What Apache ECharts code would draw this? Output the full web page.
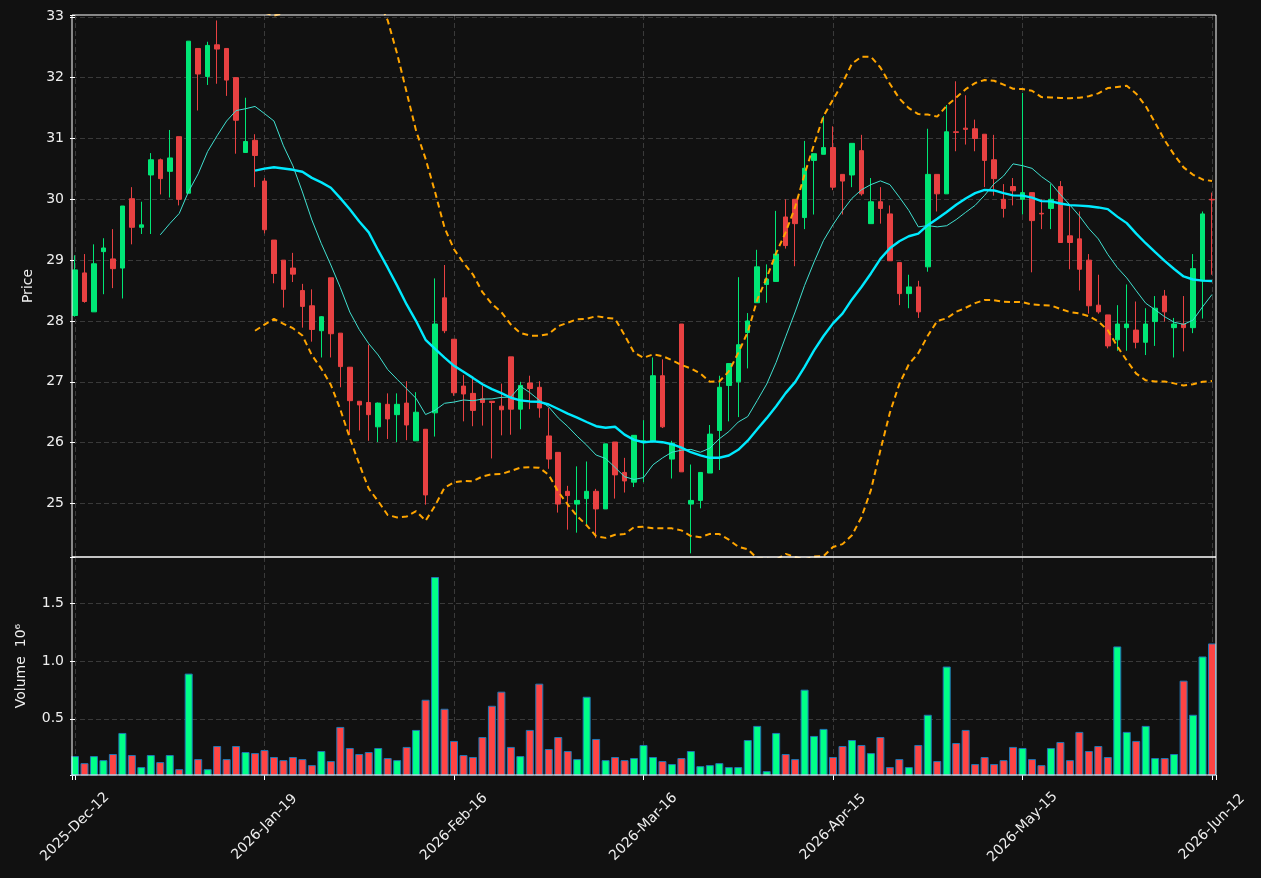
<!DOCTYPE html>
<html>
<head>
<meta charset="utf-8">
<script src="https://cdn.jsdelivr.net/npm/echarts@6/dist/echarts.min.js"></script>
<style>
	html, body { margin: 0; padding: 0; background: #111111; }
	#chart { width: 1261px; height: 878px; }
</style>
</head>
<body>
<div id="chart"></div>
<script>
// Daily prices, one entry per trading session:
var opens = [
	28.09, 28.79, 28.15, 29.14, 29.02, 28.87, 30.01, 29.54, 30.40, 30.65,
	30.46, 31.03, 30.10, 32.48, 32.02, 32.54, 32.48, 32.00, 30.77, 30.97,
	30.30, 29.33, 29.00, 28.87, 28.50, 28.25, 27.84, 28.71, 27.80, 27.24,
	26.68, 26.66, 26.26, 26.63, 26.46, 26.65, 26.03, 26.22, 26.49, 28.38,
	27.70, 26.93, 26.81, 26.72, 26.68, 26.60, 27.41, 26.55, 26.98, 26.91,
	26.11, 25.84, 25.20, 24.99, 25.08, 25.20, 24.91, 26.01, 25.51, 25.35,
	26.00, 26.03, 27.10, 25.73, 27.95, 24.99, 25.05, 25.50, 26.20, 26.94,
	27.00, 27.81, 28.30, 28.60, 28.65, 29.71, 30.00, 29.70, 30.64, 30.74,
	30.85, 30.41, 30.40, 30.80, 29.60, 29.96, 29.76, 28.96, 28.45, 28.56,
	28.89, 30.41, 30.09, 31.11, 31.17, 31.16, 31.07, 30.65, 30.00, 30.21,
	30.00, 30.11, 29.77, 29.85, 30.21, 29.40, 29.35, 29.00, 28.26, 28.10,
	27.69, 27.89, 27.85, 27.65, 27.99, 28.41, 27.89, 27.95, 27.89, 28.66,
	30.00
];
var closes = [
	28.84, 28.32, 28.94, 29.20, 28.86, 29.89, 29.54, 29.58, 30.65, 30.34,
	30.68, 30.00, 32.60, 32.06, 32.53, 32.47, 31.96, 31.30, 30.95, 30.72,
	29.50, 28.78, 28.52, 28.77, 28.24, 27.86, 28.07, 27.79, 27.25, 26.69,
	26.62, 26.46, 26.65, 26.39, 26.63, 26.29, 26.50, 25.14, 27.95, 27.84,
	26.82, 26.80, 26.53, 26.66, 26.66, 26.54, 26.55, 26.94, 26.89, 26.57,
	25.73, 24.99, 25.13, 25.05, 25.20, 24.91, 25.98, 25.47, 25.37, 26.12,
	26.03, 27.10, 26.26, 25.99, 25.52, 25.05, 25.51, 26.14, 26.91, 27.30,
	27.61, 28.00, 28.89, 28.69, 29.10, 29.24, 29.60, 30.51, 30.75, 30.85,
	30.20, 30.30, 30.92, 30.09, 29.96, 29.85, 28.99, 28.45, 28.56, 28.15,
	30.41, 30.09, 31.11, 31.10, 31.15, 31.00, 30.64, 30.34, 29.85, 30.14,
	30.11, 29.65, 29.76, 30.00, 29.29, 29.29, 28.85, 28.25, 28.15, 27.59,
	27.95, 27.95, 27.65, 27.95, 28.21, 28.15, 27.95, 27.89, 28.86, 29.76,
	29.99
];
var highs = [
	29.08, 29.10, 29.26, 29.36, 29.51, 29.89, 30.20, 29.96, 30.76, 30.67,
	31.14, 31.03, 32.60, 32.48, 32.59, 32.94, 32.48, 32.00, 31.67, 31.07,
	30.35, 29.33, 29.00, 29.12, 28.61, 28.52, 28.08, 28.71, 27.80, 27.24,
	26.68, 27.61, 26.66, 26.81, 26.81, 27.01, 26.83, 26.22, 28.70, 28.92,
	27.70, 27.11, 27.06, 26.94, 26.68, 26.97, 27.41, 27.00, 27.10, 27.01,
	26.57, 25.84, 25.29, 25.61, 25.69, 25.24, 25.98, 26.01, 25.75, 26.12,
	26.37, 27.40, 27.37, 26.03, 27.95, 25.64, 25.51, 26.29, 27.10, 27.30,
	28.72, 28.13, 29.17, 28.93, 29.81, 30.00, 30.00, 30.96, 30.75, 31.37,
	31.20, 30.41, 30.92, 31.06, 30.35, 30.20, 29.90, 28.96, 28.76, 28.66,
	31.16, 30.41, 31.55, 31.94, 31.71, 31.31, 31.07, 31.06, 30.25, 30.35,
	31.75, 30.11, 30.00, 30.25, 30.30, 29.90, 29.80, 29.10, 28.76, 28.10,
	28.26, 28.60, 28.32, 28.21, 28.41, 28.51, 28.05, 28.41, 29.10, 29.80,
	30.11
];
var lows = [
	28.07, 28.30, 28.15, 28.44, 28.54, 28.37, 29.26, 29.43, 29.43, 30.08,
	30.03, 29.90, 30.10, 31.46, 31.88, 31.90, 31.70, 30.75, 30.77, 30.20,
	29.44, 28.62, 28.22, 28.64, 27.89, 27.66, 27.40, 27.40, 26.91, 26.13,
	26.20, 26.03, 26.01, 26.06, 26.01, 26.04, 26.03, 24.98, 26.10, 27.80,
	26.77, 26.35, 26.27, 26.28, 25.74, 26.12, 26.13, 26.22, 26.55, 26.41,
	25.57, 24.85, 24.57, 24.52, 24.65, 24.43, 24.91, 25.08, 25.18, 25.27,
	25.35, 26.03, 26.24, 25.41, 25.52, 24.18, 24.92, 25.50, 25.55, 26.35,
	26.42, 27.22, 28.30, 28.30, 28.65, 29.19, 28.90, 29.51, 29.75, 30.74,
	30.15, 29.75, 30.20, 30.06, 29.60, 29.60, 28.99, 28.26, 28.21, 28.05,
	28.81, 29.80, 30.09, 30.79, 30.90, 30.79, 30.20, 30.06, 29.70, 29.90,
	29.75, 28.80, 29.51, 29.51, 29.29, 28.85, 28.50, 28.12, 28.12, 27.55,
	27.51, 27.51, 27.55, 27.44, 27.59, 27.99, 27.40, 27.50, 27.80, 28.04,
	28.76
];
// Volume, in millions:
var volumes = [
	0.178, 0.117, 0.178, 0.143, 0.196, 0.378, 0.187, 0.083, 0.187, 0.126,
	0.187, 0.065, 0.891, 0.152, 0.065, 0.265, 0.152, 0.265, 0.213, 0.204,
	0.230, 0.170, 0.143, 0.170, 0.152, 0.100, 0.222, 0.135, 0.430, 0.248,
	0.196, 0.213, 0.248, 0.161, 0.143, 0.257, 0.404, 0.665, 1.726, 0.587,
	0.309, 0.187, 0.170, 0.343, 0.613, 0.735, 0.257, 0.178, 0.404, 0.804,
	0.239, 0.343, 0.222, 0.152, 0.691, 0.326, 0.143, 0.170, 0.143, 0.161,
	0.274, 0.170, 0.135, 0.109, 0.161, 0.222, 0.091, 0.100, 0.117, 0.083,
	0.083, 0.317, 0.439, 0.048, 0.378, 0.196, 0.152, 0.752, 0.352, 0.413,
	0.170, 0.265, 0.317, 0.274, 0.204, 0.343, 0.083, 0.152, 0.083, 0.274,
	0.535, 0.135, 0.952, 0.291, 0.404, 0.109, 0.170, 0.109, 0.143, 0.257,
	0.248, 0.152, 0.100, 0.248, 0.300, 0.143, 0.387, 0.222, 0.265, 0.170,
	1.126, 0.387, 0.309, 0.439, 0.161, 0.161, 0.196, 0.830, 0.535, 1.039,
	1.152
];
// Date labels, shown every 20 sessions:
var tickLabels = ['2025-Dec-12', '2026-Jan-19', '2026-Feb-16', '2026-Mar-16', '2026-Apr-15', '2026-May-15', '2026-Jun-12'];
var tickStep = 20;

// Colours:
var upColor = '#00e676';
var downColor = '#e84142';
var volUpColor = '#00ff88';
var volDownColor = '#ff4444';
var textColor = '#eeeeee';
var gridColor = '#3a3a3a';


// Rolling mean of closes (moving average):
function rollingMean(arr, n) {
	var out = [];
	for (var i = n - 1; i < arr.length; i++) {
		var s = 0;
		for (var j = i - n + 1; j <= i; j++) s += arr[j];
		out.push([i, s / n]);
	}
	return out;
}

// Bollinger band (mean +/- k standard deviations):
function bollinger(arr, n, k) {
	var out = [];
	for (var i = n - 1; i < arr.length; i++) {
		var s = 0, v = 0;
		for (var j = i - n + 1; j <= i; j++) s += arr[j];
		var m = s / n;
		for (var j = i - n + 1; j <= i; j++) v += (arr[j] - m) * (arr[j] - m);
		out.push([i, m + k * Math.sqrt(v / n)]);
	}
	return out;
}

// Builds candle and volume data:
var candleData = [];
var volumeData = [];
for (var i = 0; i < closes.length; i++) {
	candleData.push([i, opens[i], closes[i], lows[i], highs[i]]);
	volumeData.push({
		value: [i, volumes[i]],
		itemStyle: { color: closes[i] >= opens[i] ? volUpColor : volDownColor }
	});
}

// Shows only the whole ticks, hiding the boundary ones:
function wholeLabel(step, digits) {
	return function (v) {
		var r = Math.round(v / step) * step;
		if (Math.abs(v - r) > 1e-6) return '';
		return r.toFixed(digits);
	};
}

function dateLabel(v) {
	var r = Math.round(v);
	if (Math.abs(v - r) > 1e-6 || r % tickStep !== 0) return '';
	return tickLabels[r / tickStep] || '';
}

var splitStyle = {
	show: true,
	showMinLine: false,
	showMaxLine: false,
	lineStyle: { color: gridColor, type: [5, 3], width: 1 }
};

function xAxisFor(gridIndex, showLabels) {
	return {
		type: 'value',
		gridIndex: gridIndex,
		min: -0.317,
		max: 120.42,
		minInterval: tickStep,
		maxInterval: tickStep,
		axisLine: { show: false },
		axisTick: { show: showLabels, length: 5, lineStyle: { color: '#ffffff' } },
		axisLabel: {
			show: showLabels,
			formatter: dateLabel,
			rotate: 45,
			align: 'center',
			verticalAlign: 'middle',
			margin: 52,
			color: textColor,
			fontFamily: 'DejaVu Sans',
			fontSize: 14
		},
		splitLine: splitStyle
	};
}

var chart = echarts.init(document.getElementById('chart'));

chart.setOption({
	animation: false,
	backgroundColor: '#111111',
	grid: [
		{ left: 72, top: 15, width: 1144, height: 542, show: true, borderColor: '#ffffff', borderWidth: 1, z: 5 },
		{ left: 72, top: 557, width: 1144, height: 218, show: true, borderColor: '#ffffff', borderWidth: 1, z: 5 }
	],
	xAxis: [xAxisFor(0, false), xAxisFor(1, true)],
	yAxis: [
		{
			type: 'value',
			gridIndex: 0,
			min: 24.12,
			max: 33.03,
			minInterval: 1,
			maxInterval: 1,
			name: 'Price',
			nameLocation: 'middle',
			nameRotate: 90,
			nameGap: 36,
			nameTextStyle: { color: textColor, fontFamily: 'DejaVu Sans', fontSize: 14 },
			axisLine: { show: false },
			axisTick: { show: true, length: 5, lineStyle: { color: '#ffffff' } },
			axisLabel: { formatter: wholeLabel(1, 0), color: textColor, fontFamily: 'DejaVu Sans', fontSize: 14, margin: 8 },
			splitLine: splitStyle
		},
		{
			type: 'value',
			gridIndex: 1,
			min: 0.0144,
			max: 1.899,
			minInterval: 0.5,
			maxInterval: 0.5,
			name: 'Volume  10\u2076',
			nameLocation: 'middle',
			nameRotate: 90,
			nameGap: 44,
			nameTextStyle: { color: textColor, fontFamily: 'DejaVu Sans', fontSize: 14 },
			axisLine: { show: false },
			axisTick: { show: true, length: 5, lineStyle: { color: '#ffffff' } },
			axisLabel: { formatter: wholeLabel(0.5, 1), color: textColor, fontFamily: 'DejaVu Sans', fontSize: 14, margin: 8 },
			splitLine: splitStyle
		}
	],
	series: [
		{
			type: 'candlestick',
			xAxisIndex: 0,
			yAxisIndex: 0,
			barWidth: 5,
			encode: { x: 0, y: [1, 2, 3, 4] },
			data: candleData,
			itemStyle: {
				color: upColor,
				color0: downColor,
				borderColor: upColor,
				borderColor0: downColor,
				borderWidth: 1
			}
		},
		{
			type: 'line',
			xAxisIndex: 0,
			yAxisIndex: 0,
			data: rollingMean(closes, 10),
			showSymbol: false,
			lineStyle: { color: '#40e0d0', width: 1 },
			z: 3
		},
		{
			type: 'line',
			xAxisIndex: 0,
			yAxisIndex: 0,
			data: rollingMean(closes, 20),
			showSymbol: false,
			lineStyle: { color: '#00eaff', width: 2.4 },
			z: 3
		},
		{
			type: 'line',
			xAxisIndex: 0,
			yAxisIndex: 0,
			data: bollinger(closes, 20, 2),
			showSymbol: false,
			lineStyle: { color: '#ffa500', width: 2, type: [6, 4] },
			z: 3
		},
		{
			type: 'line',
			xAxisIndex: 0,
			yAxisIndex: 0,
			data: bollinger(closes, 20, -2),
			showSymbol: false,
			lineStyle: { color: '#ffa500', width: 2, type: [6, 4] },
			z: 3
		},
		{
			type: 'bar',
			xAxisIndex: 1,
			yAxisIndex: 1,
			barWidth: 8,
			data: volumeData,
			itemStyle: { borderColor: '#1f77b4', borderWidth: 1 }
		}
	]
});
</script>
</body>
</html>
